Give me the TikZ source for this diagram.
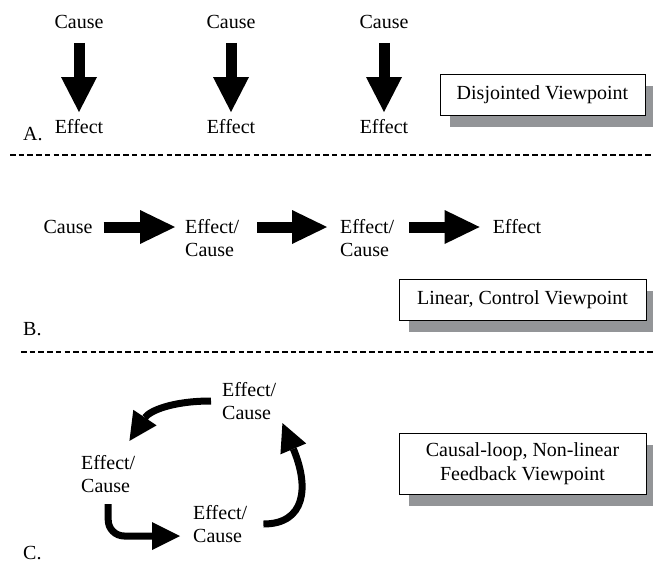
\documentclass[tikz,border=0pt]{standalone}
\usepackage{fontspec}
\setmainfont{Liberation Serif}
\usepackage{tikz}
\usetikzlibrary{arrows.meta}
\usetikzlibrary{shadows}

\definecolor{shadowgray}{RGB}{147,149,152}

\begin{document}
\begin{tikzpicture}[x=1pt,y=1pt,
	txt/.style={font=\fontsize{20}{23.5}\selectfont,inner sep=0pt,align=left},
	viewbox/.style={txt,align=center,draw,line width=1pt,fill=white,minimum height=41pt,
		drop shadow={shadow xshift=10pt,shadow yshift=-12pt,fill=shadowgray,opacity=1}},
	blockdown/.style={line width=11pt,-{Triangle[width=36pt,length=35pt,line width=0pt]},shorten <=14pt,shorten >=7pt},
	blockright/.style={line width=11pt,-{Triangle[width=34pt,length=35pt,line width=0pt]}},
	loopline/.style={line width=7pt,-{Triangle[width=28pt,length=28pt,line width=0pt]}},
	divider/.style={line width=1.2pt,dash pattern=on 5.5pt off 3.2pt}]
\useasboundingbox (0,0) rectangle (653,-571);

\foreach \x [count=\i] in {79,231,384}
{
	\node[txt,anchor=base] (cause\i) at (\x,-28.5) {Cause};
	\node[txt,anchor=base] (effect\i) at (\x,-133.3) {Effect};
	\draw[blockdown] (cause\i) -- (effect\i);
}

\node[txt,anchor=base west] (labA) at (23,-140) {A.};
\node[viewbox,minimum width=205pt] (viewA) at (542.5,-94.5) {Disjointed Viewpoint};

\draw[divider] (10,-155) -- (653,-155);


\node[txt] (causeB) at (68,-227) {Cause};
\node[txt,anchor=west] (linkB1) at (185,-238) {Effect/\\Cause};
\node[txt,anchor=west] (linkB2) at (340,-238) {Effect/\\Cause};
\node[txt] (effectB) at (517,-227) {Effect};

\draw[blockright,shorten <=11pt,shorten >=10pt] (causeB.east) -- (causeB.east -| linkB1.west);
\draw[blockright,shorten <=18pt,shorten >=13pt] (linkB1.east |- causeB.east) -- (linkB2.west |- causeB.east);
\draw[blockright,shorten <=15pt,shorten >=13pt] (linkB2.east |- causeB.east) -- (effectB.west);

\node[txt,anchor=base west] (labB) at (23,-335) {B.};
\node[viewbox,minimum width=247pt] (viewB) at (522.5,-299.5) {Linear, Control Viewpoint};

\draw[divider] (21,-352) -- (653,-352);


\node[txt,anchor=west] (loopTop) at (222,-401) {Effect/\\Cause};
\node[txt,anchor=west] (loopLeft) at (81,-474) {Effect/\\Cause};
\node[txt,anchor=west] (loopBottom) at (193,-524) {Effect/\\Cause};

\draw[loopline,shorten <=11pt] (loopTop.west) .. controls +(-50,0) and +(20,30) .. ([shift={(-6,14)}]loopLeft.north east);
\draw[loopline,rounded corners=16pt,shorten <=11pt] (loopLeft.south) |- ([shift={(-13,-12)}]loopBottom.west);
\draw[loopline,shorten <=16pt] (loopBottom.east) .. controls +(58,0) and +(27,-64) .. ([shift={(6,-3)}]loopTop.south east);

\node[txt,anchor=base west] (labC) at (23,-559) {C.};
\node[viewbox,minimum width=247pt,minimum height=61pt] (viewC) at (522.5,-463.5) {Causal-loop, Non-linear\\Feedback Viewpoint};

\end{tikzpicture}
\end{document}
